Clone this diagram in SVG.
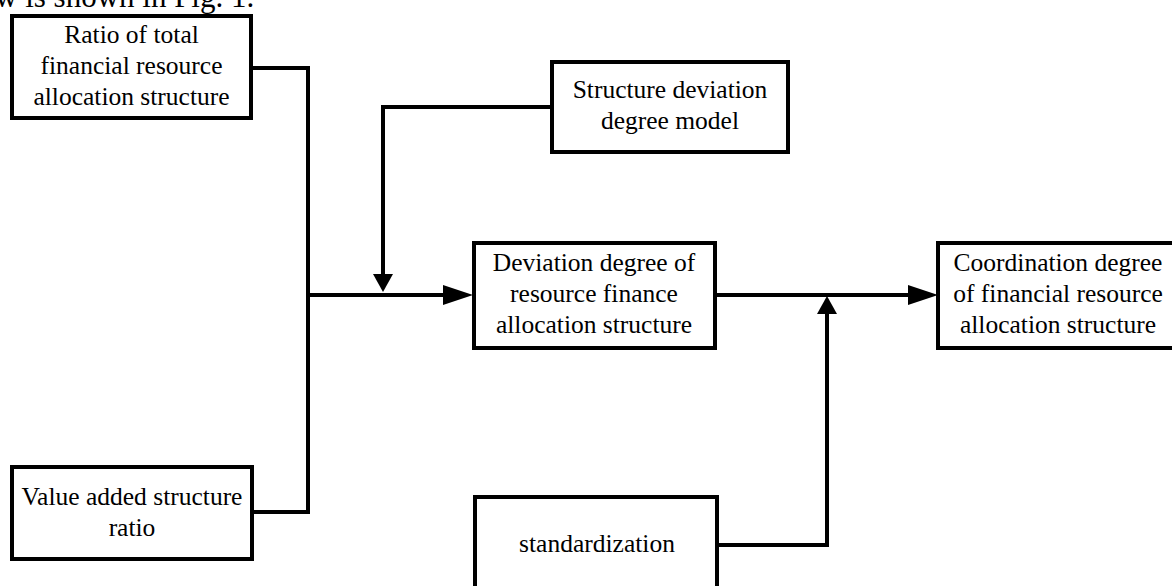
<svg xmlns="http://www.w3.org/2000/svg" width="1172" height="586" viewBox="0 0 1172 586">
<style>
.box{fill:#fff;stroke:#000;stroke-width:4;stroke-linejoin:miter}
.lbl{font-family:'Liberation Serif','Times New Roman',serif;font-size:25.5px;fill:#000;text-anchor:middle}
.wire{fill:none;stroke:#000;stroke-width:4;stroke-linejoin:miter}
</style>
<defs>
<marker id="arrL" markerUnits="userSpaceOnUse" viewBox="0 0 30 20" refX="22" refY="10" markerWidth="30" markerHeight="20" orient="auto"><path d="M0,0 L30,10 L0,20 Z" fill="#000"/></marker>
<marker id="arrS" markerUnits="userSpaceOnUse" viewBox="0 0 18 20" refX="12" refY="10" markerWidth="18" markerHeight="20" orient="auto"><path d="M0,0 L18,10 L0,20 Z" fill="#000"/></marker>
</defs>
<rect width="1172" height="586" fill="#fff"/>
<text x="-5" y="7" font-family="'Liberation Serif','Times New Roman',serif" font-size="31px">w is shown in Fig. 1.</text>
<g id="connectors">
<path class="wire" d="M251,68 H308 V512 H252"/>
<path class="wire" d="M308,295 H465" marker-end="url(#arrL)"/>
<path class="wire" d="M552,107 H383 V286" marker-end="url(#arrS)"/>
<path class="wire" d="M715,295 H930" marker-end="url(#arrL)"/>
<path class="wire" d="M717,545 H827 V302" marker-end="url(#arrS)"/>
</g>
<g id="node-ratio">
<rect class="box" x="12" y="16" width="239" height="102"/>
<text class="lbl" x="131.5" y="43">Ratio of total</text>
<text class="lbl" x="131.5" y="74">financial resource</text>
<text class="lbl" x="131.5" y="105">allocation structure</text>
</g>
<g id="node-value">
<rect class="box" x="12" y="467" width="240" height="92"/>
<text class="lbl" x="132" y="505">Value added structure</text>
<text class="lbl" x="132" y="536">ratio</text>
</g>
<g id="node-model">
<rect class="box" x="552" y="62" width="236" height="90"/>
<text class="lbl" x="670" y="98">Structure deviation</text>
<text class="lbl" x="670" y="129">degree model</text>
</g>
<g id="node-deviation">
<rect class="box" x="474" y="243" width="241" height="105"/>
<text class="lbl" x="594" y="271">Deviation degree of</text>
<text class="lbl" x="594" y="302">resource finance</text>
<text class="lbl" x="594" y="333">allocation structure</text>
</g>
<g id="node-coordination">
<rect class="box" x="938" y="243" width="250" height="105"/>
<text class="lbl" x="1058" y="271">Coordination degree</text>
<text class="lbl" x="1058" y="302">of financial resource</text>
<text class="lbl" x="1058" y="333">allocation structure</text>
</g>
<g id="node-standardization">
<rect class="box" x="475" y="497" width="242" height="110"/>
<text class="lbl" x="597" y="552">standardization</text>
</g>
</svg>
